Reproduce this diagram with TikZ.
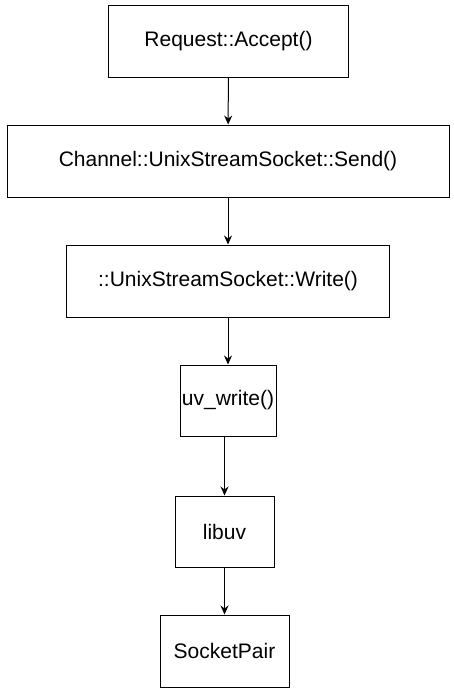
\documentclass[tikz,border=0pt]{standalone}
\usepackage{fontspec}
\setmainfont{Liberation Sans}
\usepackage{tikz}
\usetikzlibrary{arrows.meta}

\begin{document}
\begin{tikzpicture}[x=1pt,y=-1pt,
        box/.style={draw,line width=1pt,inner sep=0pt,font=\fontsize{21}{25}\selectfont},
        flow/.style={-{Stealth[length=9pt,width=8pt,inset=3pt]},line width=1pt}]
        \useasboundingbox (0,0) rectangle (453,694);
        \node[box,minimum width=240pt,minimum height=72pt] (accept) at (228.5,41) {Request::Accept()};
        \node[box,minimum width=442pt,minimum height=72pt] (send) at (228,161) {Channel::UnixStreamSocket::Send()};
        \node[box,minimum width=323pt,minimum height=72pt] (write) at (228,281) {::UnixStreamSocket::Write()};
        \node[box,minimum width=96pt,minimum height=71pt] (uvwrite) at (228,400.5) {uv\_write()};
        \node[box,minimum width=99pt,minimum height=71pt] (libuv) at (224.5,531.5) {libuv};
        \node[box,minimum width=129pt,minimum height=72pt] (pair) at (224.5,651) {SocketPair};
        % calls, top to bottom
        \draw[flow] (accept) -- (send);
        \draw[flow] (send) -- (write);
        \draw[flow] (write) -- (uvwrite);
        \draw[flow] (uvwrite.south -| libuv) -- (libuv);
        \draw[flow] (libuv) -- (pair);
    \end{tikzpicture}
\end{document}
